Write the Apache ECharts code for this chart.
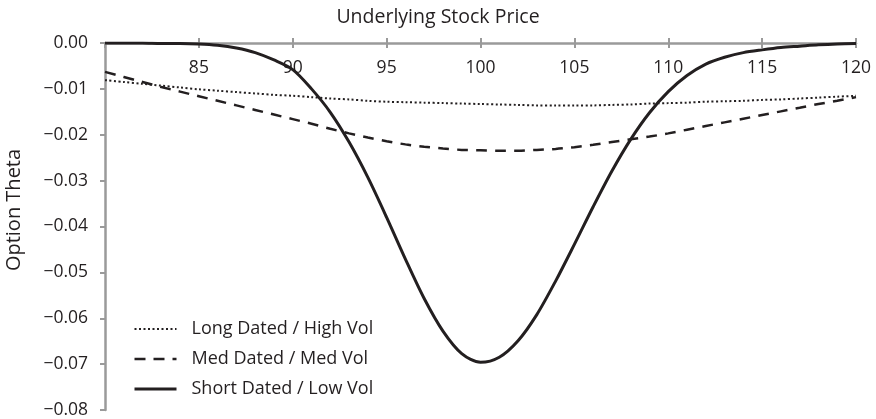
<!DOCTYPE html>
<html>
<head>
<meta charset="utf-8">
<script src="https://cdn.jsdelivr.net/npm/echarts@6/dist/echarts.min.js"></script>
<style>html,body{margin:0;padding:0;background:#fff;}#c{width:876px;height:419px;}</style>
</head>
<body>
<div id="c"></div>
<script>
var prices = [80,81,82,83,84,85,86,87,88,89,90,91,92,93,94,95,96,97,98,99,100,101,102,103,104,105,106,107,108,109,110,111,112,113,114,115,116,117,118,119,120];
var longDatedHighVol = [-0.0081,-0.0085,-0.0089,-0.0093,-0.0097,-0.0101,-0.0104,-0.0107,-0.0110,-0.0113,-0.0115,-0.0118,-0.0121,-0.0123,-0.0126,-0.0128,-0.0129,-0.0130,-0.0131,-0.0132,-0.0133,-0.0134,-0.0135,-0.0136,-0.0136,-0.0136,-0.0136,-0.0135,-0.0134,-0.0132,-0.0131,-0.0130,-0.0128,-0.0127,-0.0126,-0.0124,-0.0123,-0.0121,-0.0119,-0.0117,-0.0115];
var medDatedMedVol = [-0.0063,-0.0074,-0.0085,-0.0096,-0.0106,-0.0116,-0.0126,-0.0136,-0.0146,-0.0156,-0.0166,-0.0176,-0.0187,-0.0197,-0.0206,-0.0214,-0.0221,-0.0226,-0.0230,-0.0233,-0.0234,-0.0235,-0.0235,-0.0233,-0.0231,-0.0227,-0.0222,-0.0216,-0.0210,-0.0204,-0.0197,-0.0189,-0.0181,-0.0173,-0.0165,-0.0157,-0.0149,-0.0141,-0.0133,-0.0126,-0.0118];
var shortDatedLowVol = [0,0,0,-0.0001,-0.0001,-0.0002,-0.0005,-0.0011,-0.0021,-0.0037,-0.0058,-0.0100,-0.0151,-0.0216,-0.0293,-0.0380,-0.0471,-0.0557,-0.0628,-0.0677,-0.0696,-0.0685,-0.0649,-0.0592,-0.0519,-0.0439,-0.0357,-0.0279,-0.0210,-0.0152,-0.0106,-0.0071,-0.0046,-0.0031,-0.0021,-0.0015,-0.0010,-0.0007,-0.0004,-0.0002,-0.0001];
var seriesNames = ['Long Dated / High Vol','Med Dated / Med Vol','Short Dated / Low Vol'];
var xTitle = 'Underlying Stock Price';
var yTitle = 'Option Theta';

function pairs(ys){ return prices.map(function(x,i){ return [x, ys[i]]; }); }

var FONT = '"Open Sans", sans-serif';
var INK = '#231f20';
var AX = '#9a9a9a';
var styles = [
  {color:INK, width:2, type:[2,2.5], cap:'butt'},
  {color:INK, width:2.5, type:[11,8], cap:'butt'},
  {color:INK, width:3, type:'solid'}
];

var chart = echarts.init(document.getElementById('c'), null, {renderer:'canvas'});
var xBase = {
  type:'value', min:80, max:120, interval:5, position:'top',
  splitLine:{show:false}
};
chart.setOption({
  animation:false,
  textStyle:{fontFamily:FONT},
  title:{text:xTitle, left:'center', top:3, padding:0,
    textStyle:{fontFamily:FONT, fontSize:19.5, fontWeight:'normal', color:INK, lineHeight:28}},
  grid:{left:105, right:20, top:43, bottom:8, containLabel:false},
  legend:{
    orient:'vertical', left:133, top:320, padding:0, itemWidth:42, itemHeight:16, itemGap:12,
    itemStyle:{opacity:0, color:'rgba(0,0,0,0)', borderWidth:0},
    textStyle:{fontFamily:FONT, fontSize:18, color:INK, lineHeight:16, height:16, padding:[0,0,0,10]},
    data:seriesNames.map(function(n,i){ return {name:n, lineStyle:styles[i]}; })
  },
  graphic:[{
    type:'text', x:14, y:210, rotation:Math.PI/2,
    style:{text:yTitle, fontFamily:FONT, fontSize:20, fill:INK, align:'center', verticalAlign:'middle'}
  }],
  xAxis:[
    Object.assign({}, xBase, {
      axisLine:{show:true, onZero:false, lineStyle:{color:AX, width:2.5}},
      axisTick:{show:true, inside:false, length:5, lineStyle:{color:AX, width:2}},
      axisLabel:{show:true, inside:true, margin:16, showMinLabel:false,
        fontFamily:FONT, fontSize:17.5, color:INK}
    }),
    Object.assign({}, xBase, {
      axisLine:{show:false, onZero:false},
      axisTick:{show:true, inside:true, length:5, lineStyle:{color:AX, width:2}},
      axisLabel:{show:false}
    })
  ],
  yAxis:{
    type:'value', min:-0.08, max:0, interval:0.01,
    splitLine:{show:false},
    axisLine:{show:true, lineStyle:{color:AX, width:2.5}},
    axisTick:{show:true, length:5, lineStyle:{color:AX, width:2}},
    axisLabel:{margin:17, fontFamily:FONT, fontSize:17.5, color:INK,
      formatter:function(v){ var a=Math.abs(v).toFixed(2); return Math.abs(v)<1e-9 ? '0.00' : '\u2212'+a; }}
  },
  series:[
    {name:seriesNames[0], type:'line', xAxisIndex:0, data:pairs(longDatedHighVol), smooth:0.3, showSymbol:false, symbol:'none',
      lineStyle:styles[0], itemStyle:{color:INK}},
    {name:seriesNames[1], type:'line', xAxisIndex:0, data:pairs(medDatedMedVol), smooth:0.3, showSymbol:false, symbol:'none',
      lineStyle:styles[1], itemStyle:{color:INK}},
    {name:seriesNames[2], type:'line', xAxisIndex:0, data:pairs(shortDatedLowVol), smooth:0.3, showSymbol:false, symbol:'none',
      lineStyle:styles[2], itemStyle:{color:INK}}
  ]
});
</script>
</body>
</html>
